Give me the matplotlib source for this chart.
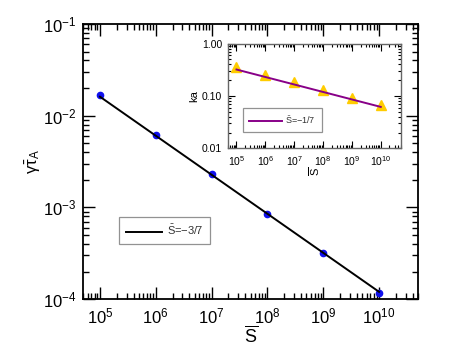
import numpy as np
import matplotlib
matplotlib.use("Agg")
import matplotlib.pyplot as plt
from matplotlib.ticker import LogLocator, FixedLocator, NullFormatter, FormatStrFormatter
from matplotlib.lines import Line2D

plt.rcParams["font.family"] = ["Liberation Sans", "DejaVu Sans"]
plt.rcParams["mathtext.fontset"] = "custom"
plt.rcParams["mathtext.rm"] = "Liberation Sans"
plt.rcParams["mathtext.it"] = "Liberation Sans:italic"
plt.rcParams["mathtext.default"] = "regular"

# data
s_vals = [1e5, 1e6, 1e7, 1e8, 1e9, 1e10]
tau_vals = [0.0168, 0.00621, 0.00231, 0.000853, 0.000316, 0.000116]
tau_fit = [0.0161, 0.000120]     # fit line at S=1e5 and S=1e10, slope -3/7
ka_vals = [0.36, 0.249, 0.183, 0.133, 0.092, 0.066]
ka_fit = [0.32, 0.062]           # fit line at S=1e5 and S=1e10, slope -1/7
fit_ends = [1e5, 1e10]

main_label = r"$\bar{S}$=$-$3/7"
inset_label = r"$\bar{S}$=$-$1/7"


def minor_positions(lo, hi):
    return [m * 10.0 ** e for e in range(lo, hi) for m in range(2, 10)]


def style_log_axes(ax, xdec, ydec, major_len, minor_len, width, labelsize, pad):
    ax.xaxis.set_major_locator(LogLocator(base=10, numticks=100))
    ax.yaxis.set_major_locator(LogLocator(base=10, numticks=100))
    ax.xaxis.set_minor_locator(FixedLocator(minor_positions(*xdec)))
    ax.yaxis.set_minor_locator(FixedLocator(minor_positions(*ydec)))
    ax.xaxis.set_minor_formatter(NullFormatter())
    ax.yaxis.set_minor_formatter(NullFormatter())
    ax.tick_params(which="both", direction="in", top=True, right=True,
                   labelsize=labelsize, pad=pad)
    ax.tick_params(which="major", length=major_len, width=width)
    ax.tick_params(which="minor", length=minor_len, width=width)


fig = plt.figure(figsize=(4.52, 3.63), dpi=100)

# main panel
ax = fig.add_axes([0.184, 0.176, 0.741, 0.758])
ax.set_xscale("log")
ax.set_yscale("log")
ax.plot(s_vals, tau_vals, "o", color="#1010ee", markersize=4.5, zorder=2)
ax.plot(fit_ends, tau_fit, "-", color="black", linewidth=1.4, zorder=3)
style_log_axes(ax, (4, 11), (-4, -1), 8.5, 4.5, 1.0, 12, 5)
ax.set_xlim(5e4, 5e10)
ax.set_ylim(1e-4, 1e-1)
for sp in ax.spines.values():
    sp.set_linewidth(1.3)
ax.set_xlabel(r"$\overline{S}$", fontsize=13, labelpad=0)
ax.set_ylabel(r"$\gamma\bar{\tau}_A$", fontsize=12, labelpad=0)

leg = ax.legend([Line2D([], [], color="black", linewidth=1.4)], [main_label],
                loc="lower left", bbox_to_anchor=(0.107, 0.2), borderaxespad=0,
                fancybox=False, edgecolor="#777777", fontsize=8,
                handlelength=3.3, borderpad=0.6, handletextpad=0.4)
leg.get_frame().set_linewidth(0.9)
leg.get_texts()[0].set_color("#333333")

# inset
ins = fig.add_axes([0.504, 0.591, 0.383, 0.289])
ins.set_xscale("log")
ins.set_yscale("log")
ins.plot(s_vals, ka_vals, "^", color="#ffcc00", markersize=7, zorder=2)
ins.plot(fit_ends, ka_fit, "-", color="#880088", linewidth=1.4, zorder=3)
style_log_axes(ins, (4, 11), (-2, 0), 5, 2.5, 0.8, 7.5, 4)
ins.set_xlim(5e4, 5e10)
ins.set_ylim(0.01, 1.0)
ins.yaxis.set_major_formatter(FormatStrFormatter("%.2f"))
for sp in ins.spines.values():
    sp.set_linewidth(1.0)
    sp.set_edgecolor("#666666")
ins.set_ylabel("ka", fontsize=8, labelpad=2)
ins.set_xlabel(r"$\overline{S}$", fontsize=8, labelpad=-1, rotation=90)

leg2 = ins.legend([Line2D([], [], color="#880088", linewidth=1.4)], [inset_label],
                  loc="lower left", bbox_to_anchor=(0.087, 0.155), borderaxespad=0,
                  fancybox=False, edgecolor="#777777", fontsize=6.5,
                  handlelength=3.6, borderpad=0.7, handletextpad=0.4)
leg2.get_frame().set_linewidth(0.9)
leg2.get_texts()[0].set_color("#333333")

fig.savefig("out.png", dpi=100)
